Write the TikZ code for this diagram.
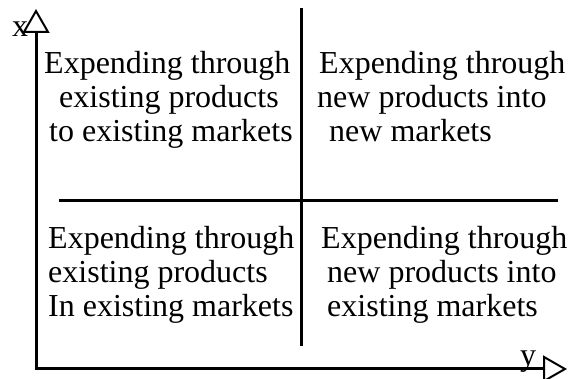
\documentclass[tikz,border=0pt]{standalone}
\usepackage{fontspec}
\setmainfont{Liberation Serif}
\usetikzlibrary{arrows.meta}
\begin{document}
\begin{tikzpicture}[x=1pt,y=-1pt,
  txt/.style={anchor=base west,inner sep=0pt,font=\fontsize{32pt}{34pt}\selectfont},
  axistip/.tip={Triangle[open,length=24pt,width=27pt,line width=2pt]},
  axis/.style={line width=3pt,line join=miter,axistip-axistip},
  divider/.style={line width=3pt}]
  \useasboundingbox (0,0) rectangle (571,379);
  % axes
  \coordinate (xtip) at (36,9);
  \coordinate (ytip) at (567,369);
  \coordinate (origin) at (36,369);
  \draw[axis] (xtip) -- (origin) -- (ytip);
  \node[txt] (xl) at (12,37) {x};
  \node[txt] (yl) at (520,366) {y};
  % quadrant dividers
  \coordinate (vt) at (301,8);
  \coordinate (vb) at (301,346);
  \coordinate (hl) at (59,201);
  \coordinate (hr) at (558,201);
  \draw[divider] (vt) -- (vb);
  \draw[divider] (hl) -- (hr);
  % top left
  \node[txt] (tl1) at (44,74) {Expending through};
  \node[txt] (tl2) at (59,108) {existing products};
  \node[txt] (tl3) at (49,142) {to existing markets};
  % top right
  \node[txt] (tr1) at (319,74) {Expending through};
  \node[txt] (tr2) at (317,108) {new products into};
  \node[txt] (tr3) at (329,142) {new markets};
  % bottom left
  \node[txt] (bl1) at (48,249) {Expending through};
  \node[txt] (bl2) at (48,283) {existing products};
  \node[txt] (bl3) at (48,317) {In existing markets};
  % bottom right
  \node[txt] (br1) at (321,249) {Expending through};
  \node[txt] (br2) at (327,283) {new products into};
  \node[txt] (br3) at (327,317) {existing markets};
\end{tikzpicture}
\end{document}
